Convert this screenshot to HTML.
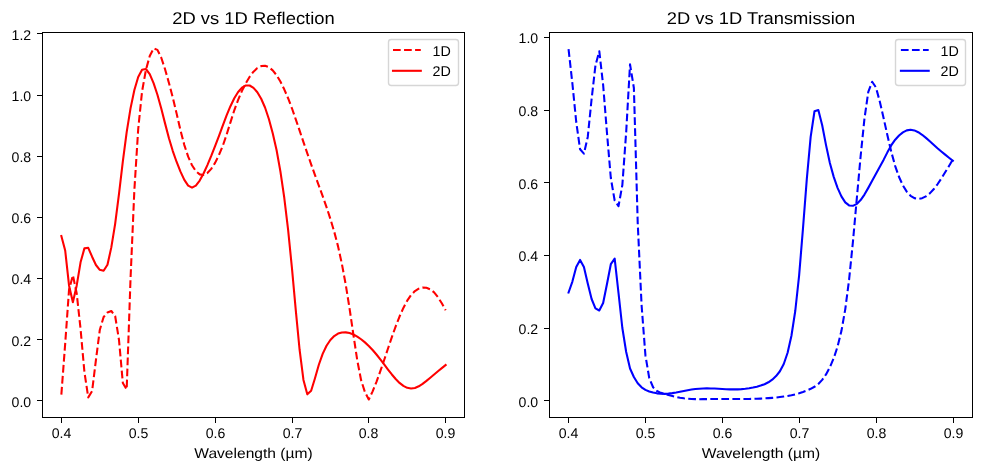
<!DOCTYPE html>
<html lang="en">
<head>
<meta charset="utf-8">
<title>2D vs 1D Reflection / Transmission</title>
<style>
html, body { margin: 0; padding: 0; background: #ffffff; }
body { width: 981px; height: 470px; overflow: hidden; font-family: "Liberation Sans", sans-serif; }
svg { display: block; will-change: transform; text-rendering: geometricPrecision; }
</style>
</head>
<body>
<svg width="981" height="470" viewBox="0 0 981 470">
<rect x="0" y="0" width="981" height="470" fill="#ffffff"/>
<clipPath id="clipL"><rect x="42.5" y="32.5" width="422.0" height="385.0"/></clipPath>
<g clip-path="url(#clipL)" fill="none" stroke="#ff0000" stroke-width="2.08" stroke-linejoin="round">
<polyline points="61.35,394.60 65.19,343.70 69.04,289.80 72.88,275.20 76.72,293.50 80.56,329.00 84.41,372.00 88.25,397.40 92.09,391.20 95.94,360.00 99.78,330.00 103.62,317.00 107.47,312.50 111.31,311.00 115.15,316.00 119.00,340.00 122.84,383.00 126.68,389.50 130.52,279.00 134.37,190.00 138.21,129.00 142.05,91.50 145.90,70.00 149.74,56.00 153.58,48.40 157.43,49.90 161.27,57.73 165.11,69.41 168.95,82.93 172.80,97.56 176.64,113.62 180.48,130.22 184.33,145.05 188.17,156.66 192.01,165.24 195.85,171.15 199.70,174.39 203.54,174.92 207.38,172.97 211.23,168.86 215.07,162.84 218.91,155.12 222.76,145.86 226.60,134.73 230.44,122.32 234.28,110.30 238.13,99.84 241.97,90.89 245.81,83.23 249.66,76.80 253.50,71.71 257.34,68.10 261.19,66.08 265.03,65.76 268.87,67.18 272.72,70.34 276.56,75.17 280.40,81.56 284.24,89.29 288.09,98.22 291.93,108.28 295.77,119.32 299.62,130.67 303.46,142.05 307.30,153.29 311.14,164.29 314.99,175.08 318.83,185.65 322.67,196.14 326.52,207.11 330.36,218.83 334.20,231.63 338.05,246.37 341.89,263.92 345.73,284.62 349.58,308.59 353.42,334.85 357.26,360.28 361.10,380.18 364.95,392.17 368.79,399.50 372.63,391.36 376.48,381.86 380.32,371.18 384.16,359.99 388.00,348.53 391.85,337.13 395.69,326.37 399.53,316.54 403.38,307.90 407.22,300.66 411.06,295.03 414.91,291.08 418.75,288.67 422.59,287.62 426.44,287.82 430.28,289.34 434.12,292.38 437.96,297.14 441.81,303.32 445.65,310.25" stroke-dasharray="7.71 3.33" stroke-linecap="butt"/>
<polyline points="61.35,236.00 65.19,250.50 69.04,285.40 72.88,302.20 76.72,285.40 80.56,262.30 84.41,248.40 88.25,247.80 92.09,256.70 95.94,265.00 99.78,269.80 103.62,270.80 107.47,264.80 111.31,247.40 115.15,223.80 119.00,193.94 122.84,161.46 126.68,132.11 130.52,108.39 134.37,90.04 138.21,77.04 142.05,69.80 145.90,69.00 149.74,74.06 153.58,83.09 157.43,94.80 161.27,108.53 165.11,123.63 168.95,138.26 172.80,151.04 176.64,161.98 180.48,171.63 184.33,179.88 188.17,185.62 192.01,187.59 195.85,185.59 199.70,180.59 203.54,173.52 207.38,165.06 211.23,155.91 215.07,146.15 218.91,136.03 222.76,125.58 226.60,115.40 230.44,106.18 234.28,98.29 238.13,92.05 241.97,87.69 245.81,85.43 249.66,85.49 253.50,87.85 257.34,92.27 261.19,98.76 265.03,107.52 268.87,119.02 272.72,133.18 276.56,150.04 280.40,171.32 284.24,197.51 288.09,229.63 291.93,267.95 295.77,310.08 299.62,349.98 303.46,379.96 307.30,394.35 311.14,390.70 314.99,378.19 318.83,364.75 322.67,353.90 326.52,345.77 330.36,339.97 334.20,336.01 338.05,333.59 341.89,332.46 345.73,332.36 349.58,333.08 353.42,334.53 357.26,336.61 361.10,339.25 364.95,342.37 368.79,345.95 372.63,349.99 376.48,354.49 380.32,359.34 384.16,364.41 388.00,369.51 391.85,374.46 395.69,379.02 399.53,382.90 403.38,385.89 407.22,387.84 411.06,388.56 414.91,387.97 418.75,386.30 422.59,383.85 426.44,380.91 430.28,377.74 434.12,374.48 437.96,371.24 441.81,368.09 445.65,365.00" stroke-linecap="square"/>
</g>
<g stroke="#000" stroke-width="1" fill="none" shape-rendering="crispEdges">
<line x1="61.5" y1="417.5" x2="61.5" y2="422.5"/>
<line x1="138.5" y1="417.5" x2="138.5" y2="422.5"/>
<line x1="215.5" y1="417.5" x2="215.5" y2="422.5"/>
<line x1="292.5" y1="417.5" x2="292.5" y2="422.5"/>
<line x1="368.5" y1="417.5" x2="368.5" y2="422.5"/>
<line x1="445.5" y1="417.5" x2="445.5" y2="422.5"/>
<line x1="36.5" y1="400.5" x2="42.5" y2="400.5"/>
<line x1="36.5" y1="339.5" x2="42.5" y2="339.5"/>
<line x1="36.5" y1="278.5" x2="42.5" y2="278.5"/>
<line x1="36.5" y1="217.5" x2="42.5" y2="217.5"/>
<line x1="36.5" y1="156.5" x2="42.5" y2="156.5"/>
<line x1="36.5" y1="95.5" x2="42.5" y2="95.5"/>
<line x1="36.5" y1="33.5" x2="42.5" y2="33.5"/>
<rect x="42.5" y="32.5" width="422.0" height="385.0"/>
</g>
<g font-family="Liberation Sans, sans-serif" font-size="14.1" fill="#000">
<text x="61.50" y="437.7" text-anchor="middle" textLength="19.6" lengthAdjust="spacingAndGlyphs">0.4</text>
<text x="138.50" y="437.7" text-anchor="middle" textLength="19.6" lengthAdjust="spacingAndGlyphs">0.5</text>
<text x="215.50" y="437.7" text-anchor="middle" textLength="19.6" lengthAdjust="spacingAndGlyphs">0.6</text>
<text x="292.50" y="437.7" text-anchor="middle" textLength="19.6" lengthAdjust="spacingAndGlyphs">0.7</text>
<text x="368.50" y="437.7" text-anchor="middle" textLength="19.6" lengthAdjust="spacingAndGlyphs">0.8</text>
<text x="445.50" y="437.7" text-anchor="middle" textLength="19.6" lengthAdjust="spacingAndGlyphs">0.9</text>
<text x="31.20" y="407" text-anchor="end" textLength="19.6" lengthAdjust="spacingAndGlyphs">0.0</text>
<text x="31.20" y="346" text-anchor="end" textLength="19.6" lengthAdjust="spacingAndGlyphs">0.2</text>
<text x="31.20" y="284" text-anchor="end" textLength="19.6" lengthAdjust="spacingAndGlyphs">0.4</text>
<text x="31.20" y="223" text-anchor="end" textLength="19.6" lengthAdjust="spacingAndGlyphs">0.6</text>
<text x="31.20" y="162" text-anchor="end" textLength="19.6" lengthAdjust="spacingAndGlyphs">0.8</text>
<text x="31.20" y="101" text-anchor="end" textLength="19.6" lengthAdjust="spacingAndGlyphs">1.0</text>
<text x="31.20" y="40" text-anchor="end" textLength="19.6" lengthAdjust="spacingAndGlyphs">1.2</text>
<text x="253.50" y="457.7" text-anchor="middle" textLength="118.5" lengthAdjust="spacingAndGlyphs">Wavelength (µm)</text>
</g>
<text font-family="Liberation Sans, sans-serif" font-size="17.0" x="253.50" y="23.8" text-anchor="middle" textLength="162.5" lengthAdjust="spacingAndGlyphs" fill="#000">2D vs 1D Reflection</text>
<rect x="388.50" y="39.5" width="70.00" height="46.0" rx="2.8" ry="2.8" fill="#ffffff" fill-opacity="0.8" stroke="#cccccc" stroke-opacity="0.8" stroke-width="1.39"/>
<line x1="393.00" y1="50.0" x2="420.80" y2="50.0" stroke="#ff0000" stroke-width="2.08" stroke-dasharray="7.71 3.33"/>
<line x1="393.00" y1="70.8" x2="420.80" y2="70.8" stroke="#ff0000" stroke-width="2.08" stroke-linecap="square"/>
<g font-family="Liberation Sans, sans-serif" font-size="14.1" fill="#000">
<text x="432.60" y="55.6" textLength="18.3" lengthAdjust="spacingAndGlyphs">1D</text>
<text x="432.60" y="76.0" textLength="18.3" lengthAdjust="spacingAndGlyphs">2D</text>
</g>
<clipPath id="clipR"><rect x="549.5" y="32.5" width="423.0" height="385.0"/></clipPath>
<g clip-path="url(#clipR)" fill="none" stroke="#0000ff" stroke-width="2.08" stroke-linejoin="round">
<polyline points="568.55,49.20 572.39,83.50 576.24,122.00 580.08,149.30 583.92,153.65 587.76,136.90 591.61,99.00 595.45,65.50 599.29,51.20 603.14,85.00 606.98,133.00 610.82,178.00 614.67,200.50 618.51,206.10 622.35,185.00 626.19,132.00 630.04,64.30 633.88,88.00 637.72,223.00 641.57,305.00 645.41,355.17 649.25,378.13 653.10,387.26 656.94,391.00 660.78,392.84 664.62,393.96 668.47,394.93 672.31,395.94 676.15,396.90 680.00,397.71 683.84,398.31 687.68,398.73 691.53,399.00 695.37,399.14 699.21,399.19 703.05,399.16 706.90,399.11 710.74,399.04 714.58,398.99 718.43,398.96 722.27,398.96 726.11,398.97 729.96,398.98 733.80,399.00 737.64,399.01 741.48,399.00 745.33,398.98 749.17,398.93 753.01,398.85 756.86,398.74 760.70,398.59 764.54,398.39 768.39,398.15 772.23,397.85 776.07,397.49 779.91,397.06 783.76,396.55 787.60,395.96 791.44,395.27 795.29,394.40 799.13,393.30 802.97,391.97 806.82,390.47 810.66,388.83 814.50,386.79 818.34,383.95 822.19,379.90 826.03,374.40 829.87,367.26 833.72,358.19 837.56,346.67 841.40,331.10 845.25,309.34 849.09,279.72 852.93,241.80 856.77,198.86 860.62,156.26 864.46,118.65 868.30,91.80 872.15,81.75 875.99,87.50 879.83,101.70 883.68,118.46 887.52,135.79 891.36,152.11 895.20,166.06 899.05,177.01 902.89,185.41 906.73,191.61 910.58,195.80 914.42,198.14 918.26,198.85 922.11,198.18 925.95,196.32 929.79,193.35 933.63,189.32 937.48,184.26 941.32,178.47 945.16,172.31 949.01,165.95 952.85,159.50" stroke-dasharray="7.71 3.33" stroke-linecap="butt"/>
<polyline points="568.55,292.50 572.39,281.60 576.24,267.10 580.08,259.90 583.92,267.10 587.76,283.50 591.61,299.00 595.45,308.40 599.29,310.50 603.14,303.00 606.98,284.00 610.82,264.20 614.67,258.60 618.51,293.00 622.35,328.00 626.19,352.00 630.04,368.50 633.88,377.00 637.72,383.25 641.57,387.27 645.41,389.84 649.25,391.51 653.10,392.60 656.94,393.35 660.78,393.77 664.62,393.85 668.47,393.61 672.31,393.13 676.15,392.48 680.00,391.72 683.84,390.94 687.68,390.21 691.53,389.57 695.37,389.06 699.21,388.68 703.05,388.45 706.90,388.37 710.74,388.43 714.58,388.58 718.43,388.79 722.27,389.01 726.11,389.21 729.96,389.36 733.80,389.41 737.64,389.35 741.48,389.15 745.33,388.80 749.17,388.29 753.01,387.59 756.86,386.70 760.70,385.60 764.54,384.20 768.39,382.30 772.23,379.67 776.07,376.11 779.91,371.26 783.76,363.98 787.60,352.78 791.44,335.72 795.29,310.74 799.13,275.34 802.97,228.71 806.82,178.93 810.66,136.83 814.50,111.25 818.34,110.00 822.19,125.29 826.03,145.14 829.87,162.95 833.72,176.85 837.56,187.80 841.40,196.44 845.25,202.36 849.09,205.42 852.93,205.83 856.77,203.92 860.62,200.06 864.46,194.55 868.30,187.86 872.15,180.80 875.99,173.77 879.83,166.81 883.68,159.65 887.52,152.11 891.36,145.22 895.20,139.72 899.05,135.48 902.89,132.35 906.73,130.39 910.58,129.73 914.42,130.41 918.26,132.20 922.11,134.78 925.95,137.87 929.79,141.25 933.63,144.75 937.48,148.19 941.32,151.47 945.16,154.63 949.01,157.71 952.85,160.75" stroke-linecap="square"/>
</g>
<g stroke="#000" stroke-width="1" fill="none" shape-rendering="crispEdges">
<line x1="568.5" y1="417.5" x2="568.5" y2="422.5"/>
<line x1="645.5" y1="417.5" x2="645.5" y2="422.5"/>
<line x1="722.5" y1="417.5" x2="722.5" y2="422.5"/>
<line x1="799.5" y1="417.5" x2="799.5" y2="422.5"/>
<line x1="876.5" y1="417.5" x2="876.5" y2="422.5"/>
<line x1="953.5" y1="417.5" x2="953.5" y2="422.5"/>
<line x1="543.5" y1="400.5" x2="549.5" y2="400.5"/>
<line x1="543.5" y1="328.5" x2="549.5" y2="328.5"/>
<line x1="543.5" y1="255.5" x2="549.5" y2="255.5"/>
<line x1="543.5" y1="182.5" x2="549.5" y2="182.5"/>
<line x1="543.5" y1="110.5" x2="549.5" y2="110.5"/>
<line x1="543.5" y1="37.5" x2="549.5" y2="37.5"/>
<rect x="549.5" y="32.5" width="423.0" height="385.0"/>
</g>
<g font-family="Liberation Sans, sans-serif" font-size="14.1" fill="#000">
<text x="568.50" y="437.7" text-anchor="middle" textLength="19.6" lengthAdjust="spacingAndGlyphs">0.4</text>
<text x="645.50" y="437.7" text-anchor="middle" textLength="19.6" lengthAdjust="spacingAndGlyphs">0.5</text>
<text x="722.50" y="437.7" text-anchor="middle" textLength="19.6" lengthAdjust="spacingAndGlyphs">0.6</text>
<text x="799.50" y="437.7" text-anchor="middle" textLength="19.6" lengthAdjust="spacingAndGlyphs">0.7</text>
<text x="876.50" y="437.7" text-anchor="middle" textLength="19.6" lengthAdjust="spacingAndGlyphs">0.8</text>
<text x="953.50" y="437.7" text-anchor="middle" textLength="19.6" lengthAdjust="spacingAndGlyphs">0.9</text>
<text x="538.20" y="407" text-anchor="end" textLength="19.6" lengthAdjust="spacingAndGlyphs">0.0</text>
<text x="538.20" y="334" text-anchor="end" textLength="19.6" lengthAdjust="spacingAndGlyphs">0.2</text>
<text x="538.20" y="261" text-anchor="end" textLength="19.6" lengthAdjust="spacingAndGlyphs">0.4</text>
<text x="538.20" y="189" text-anchor="end" textLength="19.6" lengthAdjust="spacingAndGlyphs">0.6</text>
<text x="538.20" y="116" text-anchor="end" textLength="19.6" lengthAdjust="spacingAndGlyphs">0.8</text>
<text x="538.20" y="43" text-anchor="end" textLength="19.6" lengthAdjust="spacingAndGlyphs">1.0</text>
<text x="761.00" y="457.7" text-anchor="middle" textLength="118.5" lengthAdjust="spacingAndGlyphs">Wavelength (µm)</text>
</g>
<text font-family="Liberation Sans, sans-serif" font-size="17.0" x="761.00" y="23.8" text-anchor="middle" textLength="188.4" lengthAdjust="spacingAndGlyphs" fill="#000">2D vs 1D Transmission</text>
<rect x="895.50" y="39.5" width="70.00" height="46.0" rx="2.8" ry="2.8" fill="#ffffff" fill-opacity="0.8" stroke="#cccccc" stroke-opacity="0.8" stroke-width="1.39"/>
<line x1="900.90" y1="50.0" x2="928.70" y2="50.0" stroke="#0000ff" stroke-width="2.08" stroke-dasharray="7.71 3.33"/>
<line x1="900.90" y1="70.8" x2="928.70" y2="70.8" stroke="#0000ff" stroke-width="2.08" stroke-linecap="square"/>
<g font-family="Liberation Sans, sans-serif" font-size="14.1" fill="#000">
<text x="940.50" y="55.6" textLength="18.3" lengthAdjust="spacingAndGlyphs">1D</text>
<text x="940.50" y="76.0" textLength="18.3" lengthAdjust="spacingAndGlyphs">2D</text>
</g>
</svg>
</body>
</html>
